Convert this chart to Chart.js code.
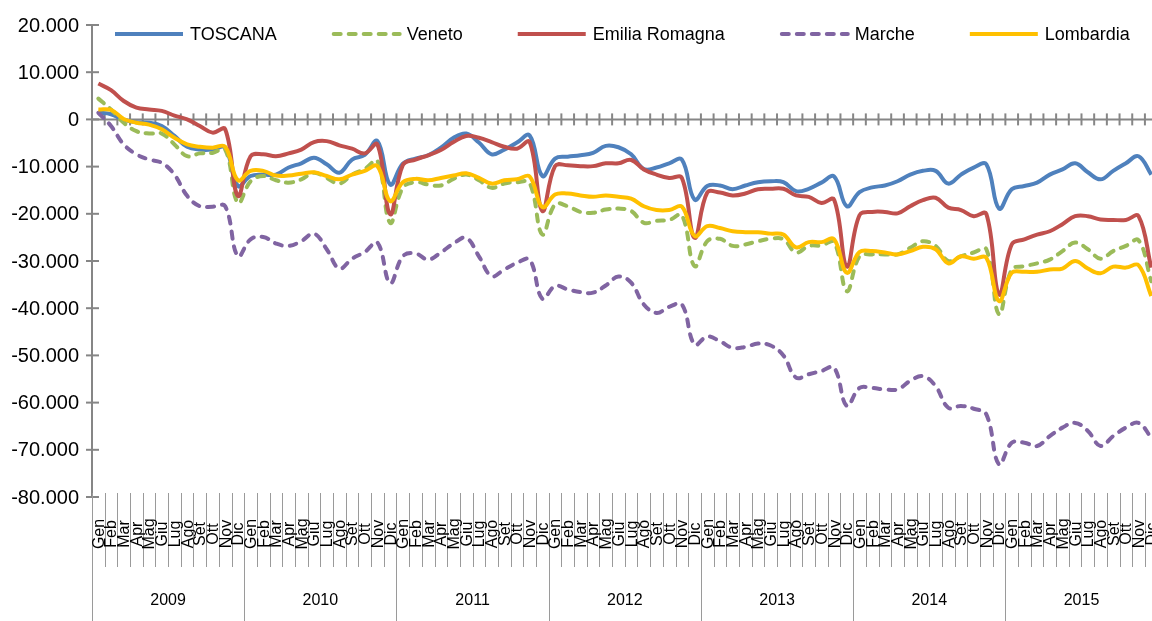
<!DOCTYPE html>
<html>
<head>
<meta charset="utf-8">
<script src="https://cdn.jsdelivr.net/npm/chart.js@4/dist/chart.umd.min.js"></script>
<style>
  html, body { margin: 0; padding: 0; background: #fff; overflow: hidden; }
  canvas { display: block; }
</style>
</head>
<body>
<canvas id="grafico" width="1160" height="621"></canvas>
<script>
const mesi = ['Gen', 'Feb', 'Mar', 'Apr', 'Mag', 'Giu', 'Lug', 'Ago', 'Set', 'Ott', 'Nov', 'Dic'];
const anni = ['2009', '2010', '2011', '2012', '2013', '2014', '2015'];
const tickY = [20000, 10000, 0, -10000, -20000, -30000, -40000, -50000, -60000, -70000, -80000];

const toscana = [
  1400, 1100, -100, -600, -700, -1400, -3500, -5800, -6400, -6400, -6000, -14100,
  -12000, -11700, -11700, -10200, -9300, -8100, -9500, -11300, -8500, -7500, -4600, -13800,
  -9400, -8300, -7600, -6000, -3900, -3000, -4900, -7400, -6400, -4900, -3400, -12000,
  -8300, -7900, -7600, -7100, -5600, -5900, -7400, -10500, -10200, -9300, -8500, -17000,
  -14100, -14000, -14800, -14000, -13300, -13100, -13300, -15200, -14700, -13400, -12100, -18400,
  -15400, -14400, -14000, -13100, -11700, -10900, -10900, -13600, -11700, -10200, -9500, -18900,
  -14800, -14100, -13400, -11700, -10600, -9300, -11200, -12700, -10900, -9300, -7800, -11700
];
const veneto = [
  4400, 2100, -700, -2500, -3000, -3000, -5300, -7800, -7200, -7100, -6400, -17700,
  -13100, -12000, -12900, -13400, -12700, -11300, -12400, -13600, -11700, -10500, -8800, -21900,
  -14500, -13300, -13800, -14000, -12600, -11700, -12900, -14500, -13600, -13300, -13500, -24400,
  -18000, -18400, -19600, -19800, -19100, -18900, -19400, -21900, -21500, -21300, -20300, -31100,
  -25800, -25300, -26800, -26500, -25800, -25300, -25400, -28200, -26800, -26700, -26000, -36400,
  -29000, -28600, -28600, -28600, -27200, -25800, -26800, -30000, -29000, -28200, -27500, -41300,
  -31800, -31100, -30500, -29700, -27900, -26100, -27500, -29500, -27900, -26800, -25600, -34300
];
const emilia = [
  7600, 6200, 3900, 2500, 2100, 1800, 800, 0, -1400, -2800, -2100, -16200,
  -7800, -7400, -7800, -7200, -6400, -4800, -4600, -5500, -6200, -7200, -5300, -20100,
  -9700, -8500, -7600, -6500, -4800, -3500, -3900, -4800, -5800, -6200, -4800, -19400,
  -9900, -9700, -9900, -9900, -9300, -9300, -8600, -10600, -11700, -12400, -12400, -25100,
  -15500, -15500, -16100, -15700, -14800, -14700, -14700, -16100, -16400, -17700, -17000, -31200,
  -20300, -19600, -19600, -19900, -18400, -17100, -16600, -18700, -19200, -20500, -20000, -37100,
  -26500, -25400, -24400, -23700, -22200, -20500, -20500, -21200, -21300, -21300, -20500, -31400
];
const marche = [
  1400, -1400, -5300, -7400, -8500, -9200, -11700, -16200, -18400, -18500, -18400, -29000,
  -25400, -24900, -26300, -26800, -25800, -24200, -27500, -31600, -29500, -28100, -26100, -34700,
  -29000, -28400, -29700, -28200, -26300, -25100, -29000, -33200, -31800, -30400, -29700, -38000,
  -35300, -36000, -36600, -36700, -35200, -33300, -34600, -39200, -41000, -39700, -39200, -47700,
  -46000, -47000, -48400, -48200, -47500, -47900, -50000, -54700, -54000, -53300, -52600, -60700,
  -56900, -56900, -57200, -57200, -55400, -54400, -56500, -61100, -60700, -61300, -62500, -73100,
  -68500, -68500, -69200, -67100, -65300, -64300, -66000, -69200, -67100, -65300, -64300, -67400
];
const lombardia = [
  2100, 2000, 100, -700, -1100, -2100, -3900, -5300, -5800, -6000, -5800, -12900,
  -10900, -10900, -11900, -11900, -11500, -11200, -12000, -12700, -11700, -10900, -9900, -17300,
  -13300, -12600, -12900, -12400, -11900, -11400, -12400, -13600, -12900, -12700, -12100, -18600,
  -15900, -15700, -16100, -16400, -16100, -16400, -16800, -18400, -19200, -19200, -18500, -24700,
  -22600, -23000, -23700, -23900, -23900, -24200, -24400, -27100, -26000, -26000, -25400, -32500,
  -28100, -27900, -28200, -28600, -27900, -27000, -27500, -30500, -29000, -29500, -29300, -38500,
  -32500, -32300, -32300, -31800, -31600, -30000, -31600, -32600, -31200, -31400, -30900, -37400
];

const etichette = anni.flatMap(() => mesi);
const FONT = '"Liberation Sans", Arial, sans-serif';
const GRIGIO = '#868686';

function formatta(v) {
  const s = String(Math.abs(v)).replace(/\B(?=(\d{3})+(?!\d))/g, '.');
  return (v < 0 ? '-' : '') + s;
}

function serie(label, data, colore, tratteggio, ordine) {
  return {
    label: label,
    data: data,
    borderColor: colore,
    backgroundColor: colore,
    borderWidth: 4,
    borderDash: tratteggio ? [7, 8] : [],
    borderCapStyle: tratteggio ? 'round' : 'butt',
    borderJoinStyle: 'round',
    pointRadius: 0,
    tension: 0.4,
    fill: false,
    order: ordine
  };
}

// assi disegnati a mano, come nel grafico Excel (asse X che incrocia a 0)
const assi = {
  id: 'assi',
  beforeDatasetsDraw(chart) {
    const { ctx, chartArea: a, scales: { x, y } } = chart;
    const passo = (a.right - a.left) / etichette.length;
    ctx.save();
    ctx.strokeStyle = GRIGIO;
    ctx.lineWidth = 2;

    // asse Y
    ctx.beginPath();
    ctx.moveTo(a.left, a.top);
    ctx.lineTo(a.left, a.bottom);
    ctx.stroke();
    ctx.font = '20px ' + FONT;
    ctx.fillStyle = '#000';
    ctx.textAlign = 'right';
    ctx.textBaseline = 'middle';
    tickY.forEach(v => {
      const py = y.getPixelForValue(v);
      ctx.beginPath();
      ctx.moveTo(a.left - 6, py);
      ctx.lineTo(a.left + 7, py);
      ctx.stroke();
      ctx.fillText(formatta(v), a.left - 13, py + 1);
    });

    // asse X a quota 0
    const y0 = y.getPixelForValue(0);
    ctx.beginPath();
    ctx.moveTo(a.left, y0);
    ctx.lineTo(a.right, y0);
    ctx.stroke();
    for (let i = 1; i <= etichette.length; i++) {
      const px = a.left + i * passo;
      ctx.beginPath();
      ctx.moveTo(px, y0 - 6);
      ctx.lineTo(px, y0 + 6);
      ctx.stroke();
    }

    // etichette in basso: mesi e anni
    ctx.lineWidth = 1;
    ctx.strokeStyle = '#9a9a9a';
    for (let i = 0; i <= etichette.length; i++) {
      const px = Math.round(a.left + i * passo) + 0.5;
      const fine = (i % 12 === 0) ? chart.height : a.bottom + 70;
      ctx.beginPath();
      ctx.moveTo(px, a.bottom - 4);
      ctx.lineTo(px, fine);
      ctx.stroke();
    }
    ctx.font = '16px ' + FONT;
    ctx.textAlign = 'center';
    ctx.textBaseline = 'middle';
    etichette.forEach((m, i) => {
      const px = x.getPixelForValue(i);
      ctx.save();
      ctx.translate(px + 1, a.bottom + 37);
      ctx.rotate(-Math.PI / 2);
      ctx.fillText(m, 0, 0);
      ctx.restore();
    });
    ctx.font = '16px ' + FONT;
    anni.forEach((anno, k) => {
      const px = (x.getPixelForValue(k * 12) + x.getPixelForValue(k * 12 + 11)) / 2;
      ctx.fillText(anno, px, a.bottom + 104);
    });
    ctx.restore();
  },
  afterDraw(chart) {
    // legenda in alto, sovrapposta all'area del grafico
    const { ctx } = chart;
    const ds = chart.data.datasets;
    ctx.save();
    ctx.font = '18px ' + FONT;
    ctx.textBaseline = 'middle';
    ctx.textAlign = 'left';
    let px = 115;
    const py = 34;
    ds.forEach(d => {
      ctx.strokeStyle = d.borderColor;
      ctx.lineWidth = d.borderWidth;
      ctx.lineCap = d.borderCapStyle;
      ctx.setLineDash(d.borderDash);
      ctx.beginPath();
      ctx.moveTo(px + (d.borderDash.length ? 2 : 0), py);
      ctx.lineTo(px + 68, py);
      ctx.stroke();
      ctx.setLineDash([]);
      ctx.fillStyle = '#000';
      ctx.fillText(d.label, px + 75, py + 1);
      px += 75 + ctx.measureText(d.label).width + 55;
    });
    ctx.restore();
  }
};

new Chart(document.getElementById('grafico'), {
  type: 'line',
  data: {
    labels: etichette,
    datasets: [
      serie('TOSCANA', toscana, '#4F81BD', false, 4),
      serie('Veneto', veneto, '#9BBB59', true, 3),
      serie('Emilia Romagna', emilia, '#C0504D', false, 2),
      serie('Marche', marche, '#8064A2', true, 1),
      serie('Lombardia', lombardia, '#FFC000', false, 0)
    ]
  },
  options: {
    responsive: false,
    animation: false,
    layout: { padding: { left: 92, top: 25, right: 2.4, bottom: 124 } },
    plugins: { legend: { display: false }, tooltip: { enabled: false } },
    scales: {
      x: { display: false, offset: true },
      y: { display: false, min: -80000, max: 20000 }
    }
  },
  plugins: [assi]
});
</script>
</body>
</html>
